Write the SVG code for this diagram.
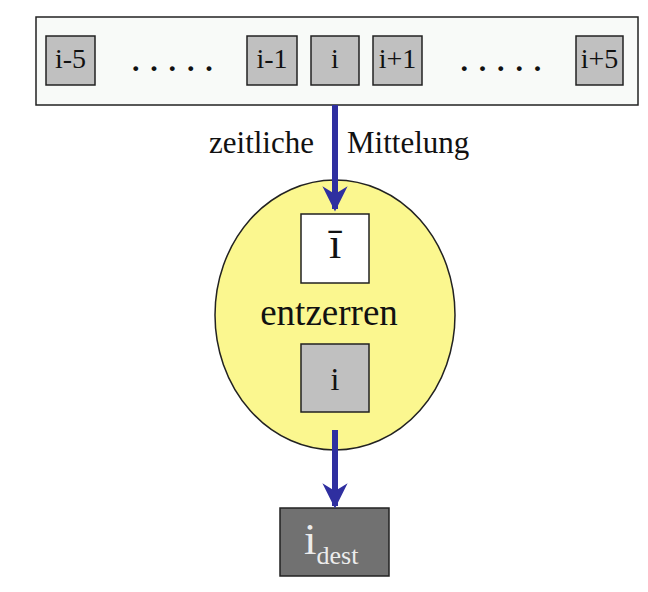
<svg xmlns="http://www.w3.org/2000/svg" width="648" height="592" viewBox="0 0 648 592">
<defs>
<style>
text{font-family:"Liberation Serif","Times New Roman",serif;fill:#111;}
.cell{fill:#c0c0c0;stroke:#222;stroke-width:1.5;}
.cell-t{font-size:28px;text-anchor:middle;}
.dots{font-size:30px;font-weight:bold;letter-spacing:10.8px;}
.lbl{font-size:31px;}
.arrow{stroke:#2f2fa0;stroke-width:6;fill:none;}
</style>
<marker id="ah" viewBox="0 0 10 10" refX="9" refY="5" markerWidth="4.2" markerHeight="4.3" orient="auto" markerUnits="strokeWidth">
<path d="M0,0 L10,5 L0,10 L3,5 Z" fill="#2f2fa0"/>
</marker>
</defs>
<rect width="648" height="592" fill="#ffffff"/>
<g id="sequence">
<rect x="36" y="17" width="602" height="88" fill="#f8faf8" stroke="#222" stroke-width="1.5"/>
<g id="n-i-5"><rect class="cell" x="46" y="36" width="49" height="49"/><text class="cell-t" x="70.5" y="68">i-5</text></g>
<text class="dots" x="132" y="71">.....</text>
<g id="n-i-1"><rect class="cell" x="247" y="36" width="50" height="49"/><text class="cell-t" x="272" y="68">i-1</text></g>
<g id="n-i"><rect class="cell" x="311" y="36" width="48" height="49"/><text class="cell-t" x="335" y="68">i</text></g>
<g id="n-i+1"><rect class="cell" x="373" y="36" width="49" height="49"/><text class="cell-t" x="397.5" y="68">i+1</text></g>
<text class="dots" x="460.5" y="71">.....</text>
<g id="n-i+5"><rect class="cell" x="576" y="36" width="47" height="49"/><text class="cell-t" x="599.5" y="68">i+5</text></g>
</g>
<g id="entzerren">
<ellipse cx="335" cy="315" rx="120" ry="135" fill="#fbf78f" stroke="#222" stroke-width="1.5"/>
<g id="n-mean"><rect x="301" y="214" width="68" height="69" fill="#ffffff" stroke="#222" stroke-width="1.5"/><text x="335" y="258" font-size="44" text-anchor="middle">ī</text></g>
<text x="329" y="325" font-size="37" text-anchor="middle">entzerren</text>
<g id="n-i-inner"><rect class="cell" x="301" y="344" width="68" height="68"/><text x="335" y="390" font-size="32" text-anchor="middle">i</text></g>
</g>
<g id="n-dest">
<rect x="280" y="508" width="109" height="68" fill="#717171" stroke="#222" stroke-width="1.5"/>
<text x="304" y="554" font-size="45" style="fill:#ececec">i<tspan font-size="26" dy="10">dest</tspan></text>
</g>
<g id="connectors">
<line class="arrow" x1="335" y1="105" x2="335" y2="209" marker-end="url(#ah)"/>
<line class="arrow" x1="335" y1="430" x2="335" y2="506" marker-end="url(#ah)"/>
</g>
<text class="lbl" x="209" y="153">zeitliche</text>
<text class="lbl" x="347" y="153">Mittelung</text>
</svg>
